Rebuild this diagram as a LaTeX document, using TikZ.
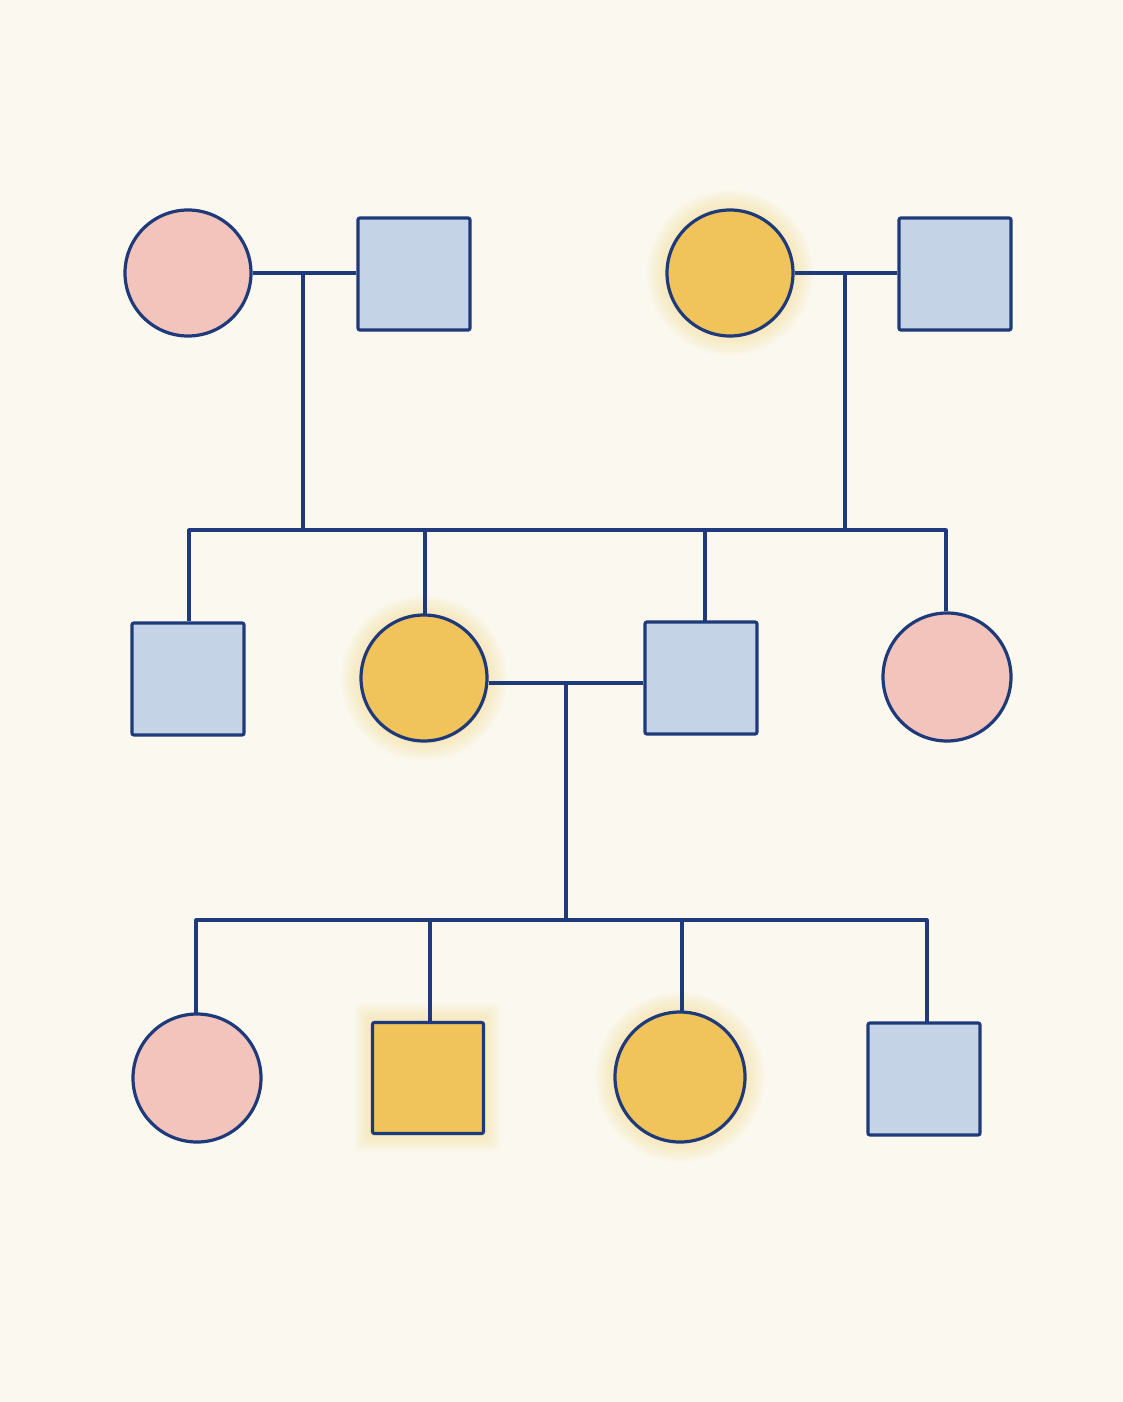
\documentclass[tikz,border=0pt]{standalone}
\definecolor{bg}{HTML}{FBF8EF}
\definecolor{pinkf}{HTML}{F2C4BC}
\definecolor{bluef}{HTML}{C5D3E6}
\definecolor{yelf}{HTML}{F0C45A}
\definecolor{ink}{HTML}{1F3A7A}
\definecolor{glow}{HTML}{F7D77A}
\begin{document}
\begin{tikzpicture}[x=1pt,y=-1pt,
  person/.style={draw=ink,line width=3.2pt,inner sep=0pt},
  fem/.style={person,circle,minimum size=126pt},
  mal/.style={person,rectangle,rounded corners=2pt,minimum size=112pt},
  pk/.style={fill=pinkf},bl/.style={fill=bluef},ye/.style={fill=yelf},
  ln/.style={draw=ink,line width=3.2pt}]
\fill[bg] (0,0) rectangle (1122,1402);
\newcommand{\glowat}[3]{\foreach \k in {1,...,8}{\fill[glow,opacity=0.06] (#1,#2) circle ({#3+2.5*\k});}}
\glowat{730}{273}{63}
\glowat{424}{678}{63}
\glowat{680}{1077}{65}
\foreach \k in {1,...,8}{\fill[glow,opacity=0.06,rounded corners=6pt] ({372-2.2*\k},{1021-2.2*\k}) rectangle ({483+2.2*\k},{1134+2.2*\k});}
% connectors first
\coordinate (m1) at (303,273); \coordinate (m1b) at (303,530);
\coordinate (m2) at (845,273); \coordinate (m2b) at (845,530);
\coordinate (s1l) at (189,530); \coordinate (s1r) at (946,530);
\coordinate (m3) at (566,683); \coordinate (m3b) at (566,920);
\coordinate (s2l) at (196,920); \coordinate (s2r) at (927,920);
% row 1
\node[fem,pk] (a1) at (188,273) {};
\node[mal,bl] (a2) at (414,274) {};
\node[fem,ye] (a3) at (730,273) {};
\node[mal,bl] (a4) at (955,274) {};
% row 2
\node[mal,bl] (b1) at (188,679) {};
\node[fem,ye] (b2) at (424,678) {};
\node[mal,bl] (b3) at (701,678) {};
\node[fem,pk,minimum size=128pt] (b4) at (947,677) {};
% row 3
\node[fem,pk,minimum size=128pt] (c1) at (197,1078) {};
\node[mal,ye,minimum size=111pt] (c2) at (428,1078) {};
\node[fem,ye,minimum size=130pt] (c3) at (680,1077) {};
\node[mal,bl] (c4) at (924,1079) {};
\begin{scope}[on background layer/.style={}]
\draw[ln] (a1.east) -- (a2.west |- a1.east);
\draw[ln] (a3.east) -- (a4.west |- a3.east);
\draw[ln] (m1) -- (m1b);
\draw[ln] (m2) -- (m2b);
\draw[ln,line join=round] (s1l |- b1.north) -- (s1l) -- (s1r) -- (s1r |- b4.north);
\draw[ln] (425,530) -- (425,615);
\draw[ln] (705,530) -- (705,621);
\draw[ln] (b2.east |- m3) -- (b3.west |- m3);
\draw[ln] (m3) -- (m3b);
\draw[ln,line join=round] (196,1014) -- (s2l) -- (s2r) -- (927,1022);
\draw[ln] (430,920) -- (430,1022);
\draw[ln] (682,920) -- (682,1012);
\end{scope}
\end{tikzpicture}
\end{document}
